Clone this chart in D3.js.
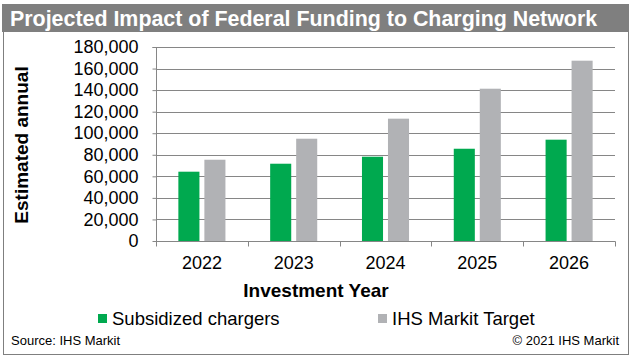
<!DOCTYPE html>
<html>
<head>
<meta charset="utf-8">
<script src="https://cdn.jsdelivr.net/npm/d3@7"></script>
<style>
  body { margin: 0; background: #fff; }
  svg { display: block; font-family: "Liberation Sans", Arial, sans-serif; }
</style>
</head>
<body>
<div id="chart"></div>
<script>
(function(){
  // Data
  const years = ["2022", "2023", "2024", "2025", "2026"];
  const seriesNames = ["Subsidized chargers", "IHS Markit Target"];
  const subsidized = [64300, 71700, 78200, 85600, 94000];
  const target = [75400, 94900, 113500, 141300, 167300];
  const yTicks = [0, 20000, 40000, 60000, 80000, 100000, 120000, 140000, 160000, 180000];
  const colors = ["#00a94f", "#b1b2b5"];

  const width = 632, height = 361;
  const plot = { left: 156, right: 615, top: 47, bottom: 241 };
  const lineColor = "#868686";

  const svg = d3.select("#chart").append("svg")
    .attr("width", width)
    .attr("height", height);

  // outer frame and title band
  svg.append("rect")
    .attr("x", 3.5).attr("y", 4.5)
    .attr("width", 625).attr("height", 350)
    .attr("fill", "#fff")
    .attr("stroke", "#7f7f7f");
  svg.append("rect")
    .attr("x", 2).attr("y", 4)
    .attr("width", 627).attr("height", 28)
    .attr("fill", "#7f7f7f");
  svg.append("text")
    .attr("x", 10).attr("y", 26)
    .attr("fill", "#fff")
    .style("font-size", "21.4px")
    .style("font-weight", "bold")
    .text("Projected Impact of Federal Funding to Charging Network");

  const x0 = d3.scaleBand().domain(years).range([plot.left, plot.right]);
  const x1 = d3.scaleBand().domain(seriesNames)
    .range([0, x0.bandwidth()])
    .paddingInner(0.19)
    .paddingOuter(0.86);
  const y = d3.scaleLinear().domain([0, 180000]).range([plot.bottom, plot.top]);

  // gridlines
  svg.append("g")
    .selectAll("line")
    .data(yTicks.slice(1))
    .join("line")
    .attr("x1", plot.left).attr("x2", plot.right)
    .attr("y1", d => Math.round(y(d)) + 0.5)
    .attr("y2", d => Math.round(y(d)) + 0.5)
    .attr("stroke", lineColor);

  // bars
  const rows = years.map((yr, i) => ({ year: yr, values: [subsidized[i], target[i]] }));
  svg.append("g")
    .selectAll("g")
    .data(rows)
    .join("g")
    .attr("transform", d => `translate(${x0(d.year)},0)`)
    .selectAll("rect")
    .data(d => d.values.map((v, j) => ({ name: seriesNames[j], value: v, c: colors[j] })))
    .join("rect")
    .attr("x", d => x1(d.name))
    .attr("width", x1.bandwidth())
    .attr("y", d => y(d.value))
    .attr("height", d => y(0) - y(d.value))
    .attr("fill", d => d.c);

  // y axis
  const yAxis = svg.append("g")
    .attr("transform", `translate(${plot.left + 0.5},0)`)
    .call(d3.axisLeft(y).tickValues(yTicks).tickSize(4).tickPadding(14)
      .tickFormat(d3.format(",")));
  yAxis.select(".domain").attr("stroke", lineColor).attr("d", `M-4,${plot.top + 0.5}H0V${plot.bottom + 0.5}`);
  yAxis.selectAll(".tick line").attr("stroke", lineColor);
  yAxis.selectAll(".tick text")
    .attr("fill", "#000")
    .style("font-size", "18px")
    .style("font-family", "'Liberation Sans', Arial, sans-serif");

  // x axis
  const xAxis = svg.append("g")
    .attr("transform", `translate(0,${plot.bottom + 0.5})`)
    .call(d3.axisBottom(x0).tickSize(0).tickPadding(15));
  xAxis.select(".domain").attr("stroke", lineColor).attr("d", `M${plot.left},0H${plot.right + 0.5}`);
  xAxis.selectAll(".tick text")
    .attr("fill", "#000")
    .style("font-size", "18px")
    .style("font-family", "'Liberation Sans', Arial, sans-serif");
  // category boundary ticks
  xAxis.append("g")
    .selectAll("line")
    .data(years.concat(["end"]))
    .join("line")
    .attr("x1", (d, i) => Math.round(i < years.length ? x0(d) : plot.right) + 0.5)
    .attr("x2", (d, i) => Math.round(i < years.length ? x0(d) : plot.right) + 0.5)
    .attr("y1", 0).attr("y2", 5)
    .attr("stroke", lineColor);

  // axis titles
  svg.append("text")
    .attr("transform", `translate(28,${(plot.top + plot.bottom) / 2 + 1}) rotate(-90)`)
    .attr("text-anchor", "middle")
    .style("font-size", "19px")
    .style("font-weight", "bold")
    .text("Estimated annual");
  svg.append("text")
    .attr("x", 316).attr("y", 297)
    .attr("text-anchor", "middle")
    .style("font-size", "19px")
    .style("font-weight", "bold")
    .text("Investment Year");

  // legend
  const legendX = [98, 378];
  const legend = svg.append("g")
    .selectAll("g")
    .data(seriesNames)
    .join("g")
    .attr("transform", (d, i) => `translate(${legendX[i]},314)`);
  legend.append("rect")
    .attr("width", 9).attr("height", 9)
    .attr("fill", (d, i) => colors[i]);
  legend.append("text")
    .attr("x", 14).attr("y", 11)
    .style("font-size", "18.5px")
    .text(d => d);

  // footer
  svg.append("text")
    .attr("x", 11).attr("y", 345)
    .style("font-size", "13px")
    .text("Source: IHS Markit");
  svg.append("text")
    .attr("x", 619).attr("y", 345)
    .attr("text-anchor", "end")
    .style("font-size", "13px")
    .text("© 2021 IHS Markit");
})();
</script>
</body>
</html>
